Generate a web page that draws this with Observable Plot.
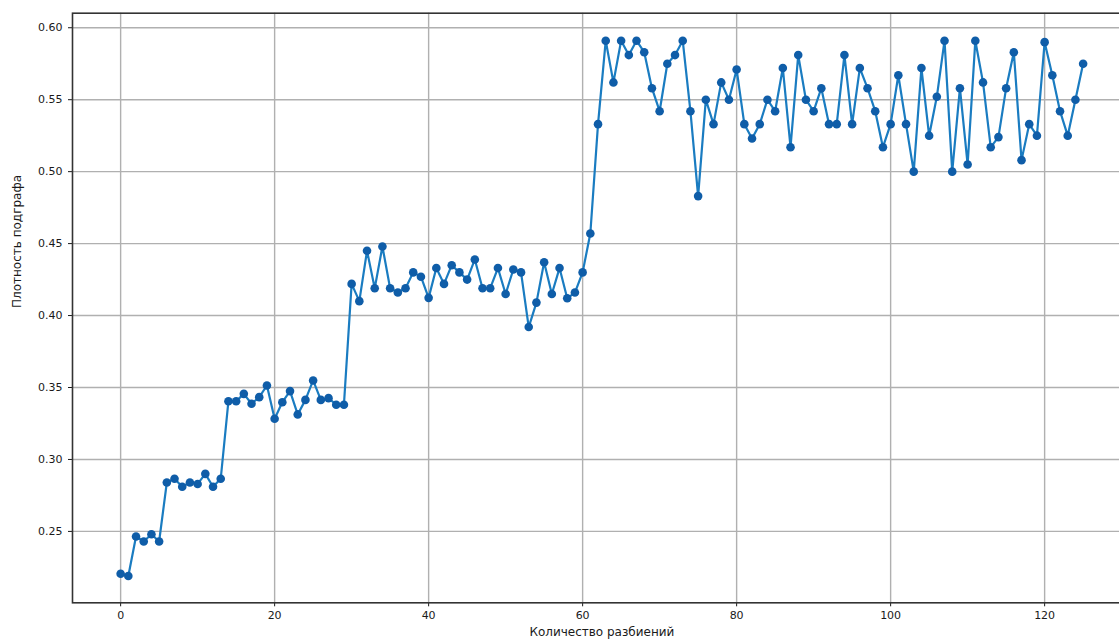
<!DOCTYPE html>
<html><head><meta charset="utf-8">
<script src="https://cdn.jsdelivr.net/npm/d3@7"></script>
<script src="https://cdn.jsdelivr.net/npm/@observablehq/plot@0.6"></script>
<style>html,body{margin:0;padding:0;background:#fff;overflow:hidden} svg{display:block}</style>
</head><body><div id="chart"></div>
<script>
const density = [
  0.2206, 0.219, 0.2465, 0.243, 0.248, 0.243, 0.284, 0.2866, 0.281, 0.284,
  0.283, 0.290, 0.281, 0.2866, 0.3405, 0.3405, 0.3456, 0.3387, 0.3433, 0.3514,
  0.3283, 0.3398, 0.3475, 0.3313, 0.3414, 0.3549, 0.3414, 0.3426, 0.338, 0.338,
  0.422, 0.410, 0.445, 0.419, 0.448, 0.419, 0.416, 0.419, 0.430, 0.427,
  0.4123, 0.433, 0.422, 0.435, 0.430, 0.425, 0.439, 0.419, 0.419, 0.433,
  0.415, 0.432, 0.430, 0.392, 0.409, 0.437, 0.415, 0.433, 0.412, 0.416,
  0.430, 0.457, 0.533, 0.591, 0.562, 0.591, 0.581, 0.591, 0.583, 0.558,
  0.542, 0.575, 0.581, 0.591, 0.542, 0.483, 0.550, 0.533, 0.562, 0.550,
  0.571, 0.533, 0.523, 0.533, 0.550, 0.542, 0.572, 0.517, 0.581, 0.550,
  0.542, 0.558, 0.533, 0.533, 0.581, 0.533, 0.572, 0.558, 0.542, 0.517,
  0.533, 0.567, 0.533, 0.500, 0.572, 0.525, 0.552, 0.591, 0.500, 0.558,
  0.505, 0.591, 0.562, 0.517, 0.524, 0.558, 0.583, 0.508, 0.533, 0.525,
  0.590, 0.567, 0.542, 0.525, 0.550, 0.575
];
const xTicks = [0, 20, 40, 60, 80, 100, 120];
const yTicks = [0.25, 0.30, 0.35, 0.40, 0.45, 0.50, 0.55, 0.60];
const xLabel = "Количество разбиений";
const yLabel = "Плотность подграфа";

const data = density.map((v, i) => ({n: i, d: v}));

const chart = Plot.plot({
  width: 1119, height: 643,
  marginLeft: 72, marginRight: -11.75, marginTop: 12.7, marginBottom: 40.7,
  style: {fontFamily: "DejaVu Sans", fontSize: "11px", color: "#1a1a1a", background: "#fff"},
  x: {domain: [-6.25, 131.25], ticks: xTicks, tickSize: 4, tickPadding: 4, label: null, tickFormat: d => String(d)},
  y: {domain: [0.2004, 0.6101], ticks: yTicks, tickSize: 4, tickPadding: 6, label: null, tickFormat: d3.format(".2f")},
  marks: [
    Plot.ruleX(xTicks, {stroke: "#b0b0b0", strokeWidth: 1.4}),
    Plot.ruleY(yTicks, {stroke: "#b0b0b0", strokeWidth: 1.4}),
    Plot.frame({stroke: "#333", strokeWidth: 1.6}),
    Plot.line(data, {x: "n", y: "d", stroke: "#1a7cc1", strokeWidth: 2.2}),
    Plot.dot(data, {x: "n", y: "d", r: 4.3, fill: "#0f5da8"}),
    Plot.text([xLabel], {text: d => d, frameAnchor: "bottom", dy: 33, fontSize: 12, fill: "#1a1a1a"}),
    Plot.text([yLabel], {text: d => d, frameAnchor: "left", dx: -55, rotate: -90, fontSize: 12, fill: "#1a1a1a"})
  ]
});
document.getElementById("chart").appendChild(chart);
</script>
</body></html>
